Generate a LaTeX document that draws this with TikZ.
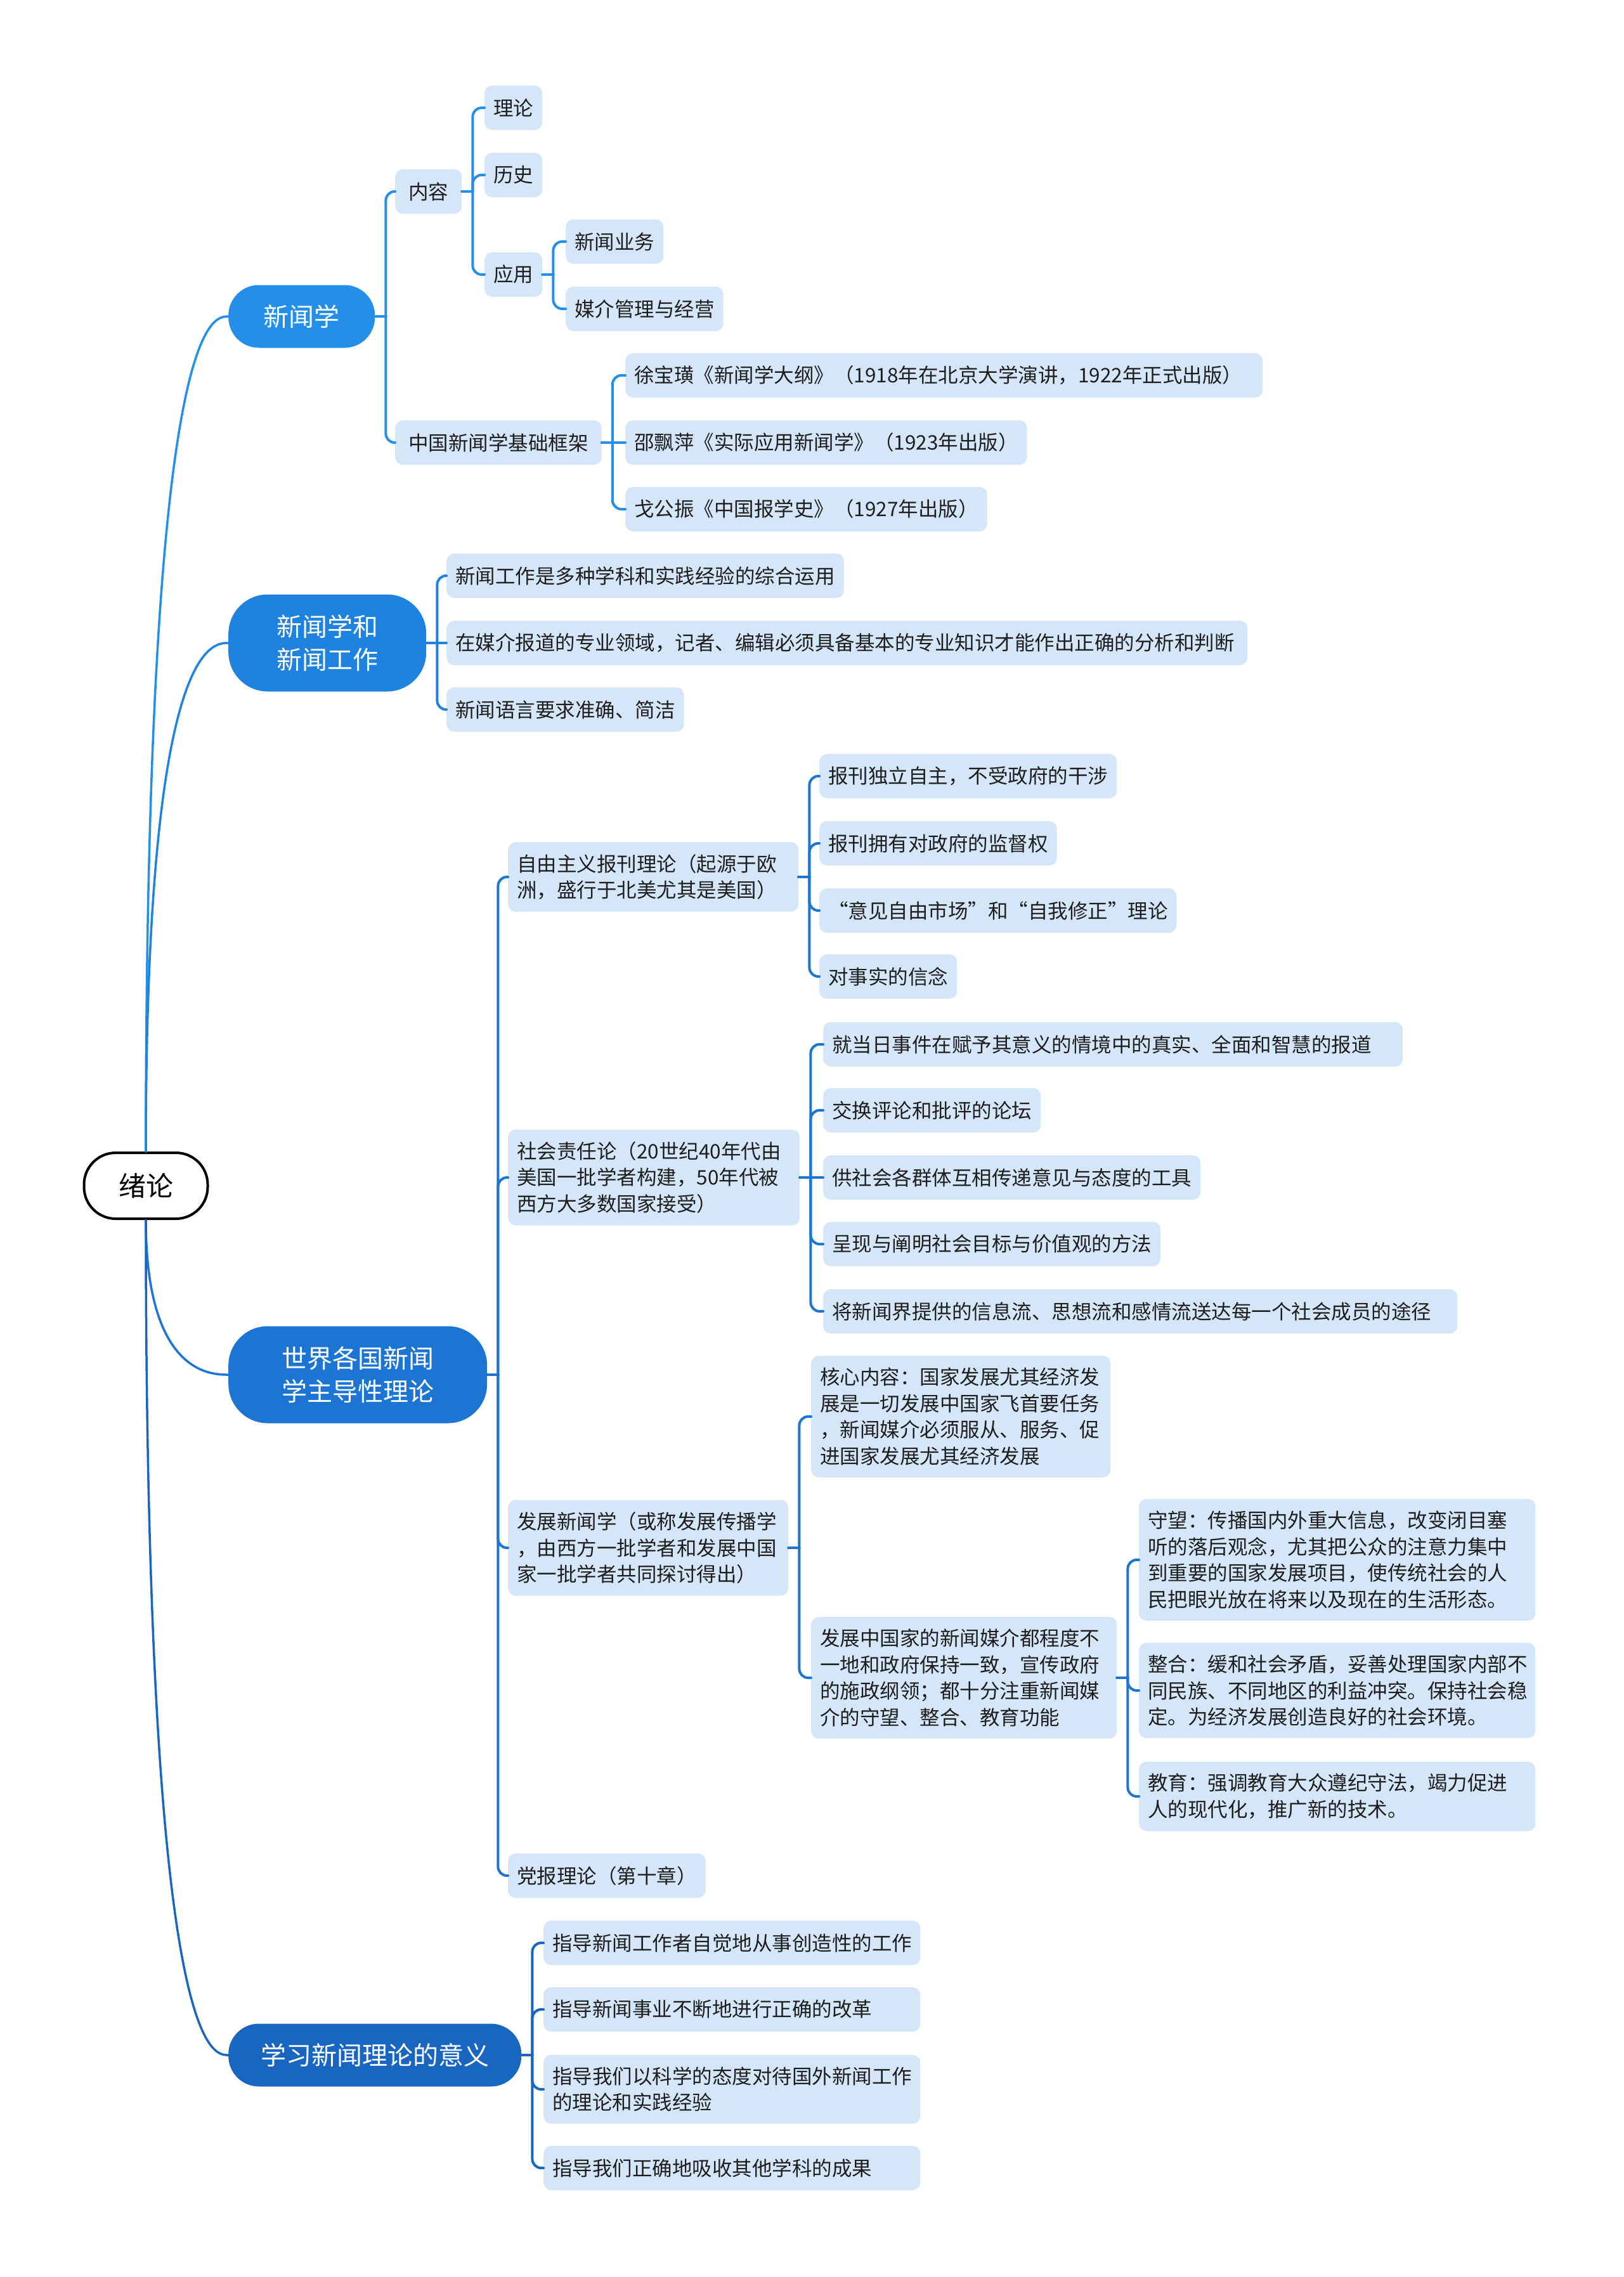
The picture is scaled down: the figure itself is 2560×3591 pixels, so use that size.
\documentclass[tikz,border=0pt]{standalone}
\usepackage{fontspec}
\setmainfont{Noto Sans CJK SC}
\definecolor{leaffill}{RGB}{212,230,248}
\definecolor{txt}{RGB}{30,30,30}
\definecolor{mA}{RGB}{35,143,232}
\definecolor{mB}{RGB}{30,130,222}
\definecolor{mC}{RGB}{28,117,210}
\definecolor{mD}{RGB}{25,102,193}
\newcommand\lnk[3]{\draw[lk,#1] (#2.east) -- ++(17,0) coordinate (tmp);
  \draw[lk,#1,rounded corners=14pt] (tmp) |- (#3.west);}
\newcommand\slnk[3]{\draw[lk,#1] (#2.east) -- (#3.west);}
\newcommand\rlnk[4]{\draw[rlk,#1] (r.#2) .. controls (230,#4) and (334,#4) .. (#3.west);}
\begin{document}
\begin{tikzpicture}[x=1pt,y=-1pt,
  leaf/.style={fill=leaffill, rounded corners=12pt, anchor=west, inner xsep=14pt, inner ysep=19pt,
    minimum height=70pt, align=left, text=txt, font=\fontsize{31.5}{41.5}\selectfont},
  main/.style={anchor=west, rounded corners=48pt, text=white, align=center, inner sep=0pt,
    font=\fontsize{40}{52}\selectfont},
  rootnode/.style={draw=black, line width=4pt, fill=white, rounded corners=50pt, minimum width=195pt,
    minimum height=104pt, text=black, font=\fontsize{43}{50}\selectfont},
  lk/.style={line width=4pt, line cap=round},
  rlk/.style={line width=3.5pt, line cap=round},
]
\useasboundingbox (0,0) rectangle (2560,3591);
\fill[white] (0,0) rectangle (2560,3591);

% root
\node[rootnode] (r) at (230,1870) {绪论};

% level 1
\node[main,fill=mA,minimum width=231pt,minimum height=99pt] (a) at (360,499) {新闻学};
\node[main,fill=mB,minimum width=312pt,minimum height=153pt,rounded corners=62pt] (b) at (360,1014) {新闻学和\\新闻工作};
\node[main,fill=mC,minimum width=408pt,minimum height=153pt,rounded corners=62pt] (c) at (360,2168) {世界各国新闻\\学主导性理论};
\node[main,fill=mD,minimum width=462pt,minimum height=99pt] (d) at (360,3241) {学习新闻理论的意义};

% branch a
\node[leaf,inner xsep=21pt] (a1) at (623,302) {内容};
\node[leaf,inner xsep=21pt] (a2) at (623,698) {中国新闻学基础框架};
\node[leaf] (a11) at (764,170) {理论};
\node[leaf] (a12) at (764,276) {历史};
\node[leaf] (a13) at (764,433) {应用};
\node[leaf] (a131) at (892,381) {新闻业务};
\node[leaf] (a132) at (892,487) {媒介管理与经营};
\node[leaf,text width=977pt] (a21) at (986,592) {徐宝璜《新闻学大纲》（1918年在北京大学演讲，1922年正式出版）};
\node[leaf] (a22) at (986,698) {邵飘萍《实际应用新闻学》（1923年出版）};
\node[leaf] (a23) at (986,803) {戈公振《中国报学史》（1927年出版）};

% branch b
\node[leaf] (b1) at (704,908) {新闻工作是多种学科和实践经验的综合运用};
\node[leaf,text width=1235pt] (b2) at (704,1014) {在媒介报道的专业领域，记者、编辑必须具备基本的专业知识才能作出正确的分析和判断};
\node[leaf] (b3) at (704,1119) {新闻语言要求准确、简洁};

% branch c
\node[leaf,text width=430pt] (c1) at (801,1383) {自由主义报刊理论（起源于欧\\洲，盛行于北美尤其是美国）};
\node[leaf] (c11) at (1292,1224) {报刊独立自主，不受政府的干涉};
\node[leaf] (c12) at (1292,1330) {报刊拥有对政府的监督权};
\node[leaf] (c13) at (1292,1436) {“意见自由市场”和“自我修正”理论};
\node[leaf] (c14) at (1292,1540) {对事实的信念};

\node[leaf,text width=432pt] (c2) at (801,1857) {社会责任论（20世纪40年代由\\美国一批学者构建，50年代被\\西方大多数国家接受）};
\node[leaf,text width=886pt] (c21) at (1298,1647) {就当日事件在赋予其意义的情境中的真实、全面和智慧的报道};
\node[leaf] (c22) at (1298,1751) {交换评论和批评的论坛};
\node[leaf] (c23) at (1298,1857) {供社会各群体互相传递意见与态度的工具};
\node[leaf] (c24) at (1298,1962) {呈现与阐明社会目标与价值观的方法};
\node[leaf,text width=972pt] (c25) at (1298,2068) {将新闻界提供的信息流、思想流和感情流送达每一个社会成员的途径};

\node[leaf,text width=414pt] (c3) at (801,2441) {发展新闻学（或称发展传播学\\，由西方一批学者和发展中国\\家一批学者共同探讨得出）};
\node[leaf,text width=444pt] (c31) at (1279,2234) {核心内容：国家发展尤其经济发\\展是一切发展中国家飞首要任务\\，新闻媒介必须服从、服务、促\\进国家发展尤其经济发展};
\node[leaf,text width=454pt] (c32) at (1279,2646) {发展中国家的新闻媒介都程度不\\一地和政府保持一致，宣传政府\\的施政纲领；都十分注重新闻媒\\介的守望、整合、教育功能};
\node[leaf,text width=597pt] (c321) at (1796,2460) {守望：传播国内外重大信息，改变闭目塞\\听的落后观念，尤其把公众的注意力集中\\到重要的国家发展项目，使传统社会的人\\民把眼光放在将来以及现在的生活形态。};
\node[leaf,text width=597pt] (c322) at (1796,2666) {整合：缓和社会矛盾，妥善处理国家内部不\\同民族、不同地区的利益冲突。保持社会稳\\定。为经济发展创造良好的社会环境。};
\node[leaf,text width=597pt] (c323) at (1796,2833) {教育：强调教育大众遵纪守法，竭力促进\\人的现代化，推广新的技术。};
\node[leaf] (c4) at (801,2958) {党报理论（第十章）};

% branch d
\node[leaf,text width=566pt] (d1) at (857,3064) {指导新闻工作者自觉地从事创造性的工作};
\node[leaf,text width=566pt] (d2) at (857,3169) {指导新闻事业不断地进行正确的改革};
\node[leaf,text width=566pt] (d3) at (857,3295) {指导我们以科学的态度对待国外新闻工作\\的理论和实践经验};
\node[leaf,text width=566pt] (d4) at (857,3419) {指导我们正确地吸收其他学科的成果};

% root links
\rlnk{mA}{north}{a}{499}
\rlnk{mB}{north}{b}{1014}
\rlnk{mC}{south}{c}{2168}
\rlnk{mD}{south}{d}{3241}

% branch a links
\lnk{mA}{a}{a1}
\lnk{mA}{a}{a2}
\lnk{mA}{a1}{a11}
\lnk{mA}{a1}{a12}
\lnk{mA}{a1}{a13}
\lnk{mA}{a13}{a131}
\lnk{mA}{a13}{a132}
\lnk{mA}{a2}{a21}
\slnk{mA}{a2}{a22}
\lnk{mA}{a2}{a23}

% branch b links
\lnk{mB}{b}{b1}
\slnk{mB}{b}{b2}
\lnk{mB}{b}{b3}

% branch c links
\lnk{mC}{c}{c1}
\lnk{mC}{c}{c2}
\lnk{mC}{c}{c3}
\lnk{mC}{c}{c4}
\lnk{mC}{c1}{c11}
\lnk{mC}{c1}{c12}
\lnk{mC}{c1}{c13}
\lnk{mC}{c1}{c14}
\lnk{mC}{c2}{c21}
\lnk{mC}{c2}{c22}
\slnk{mC}{c2}{c23}
\lnk{mC}{c2}{c24}
\lnk{mC}{c2}{c25}
\lnk{mC}{c3}{c31}
\lnk{mC}{c3}{c32}
\lnk{mC}{c32}{c321}
\lnk{mC}{c32}{c322}
\lnk{mC}{c32}{c323}

% branch d links
\lnk{mD}{d}{d1}
\lnk{mD}{d}{d2}
\lnk{mD}{d}{d3}
\lnk{mD}{d}{d4}
\end{tikzpicture}
\end{document}
